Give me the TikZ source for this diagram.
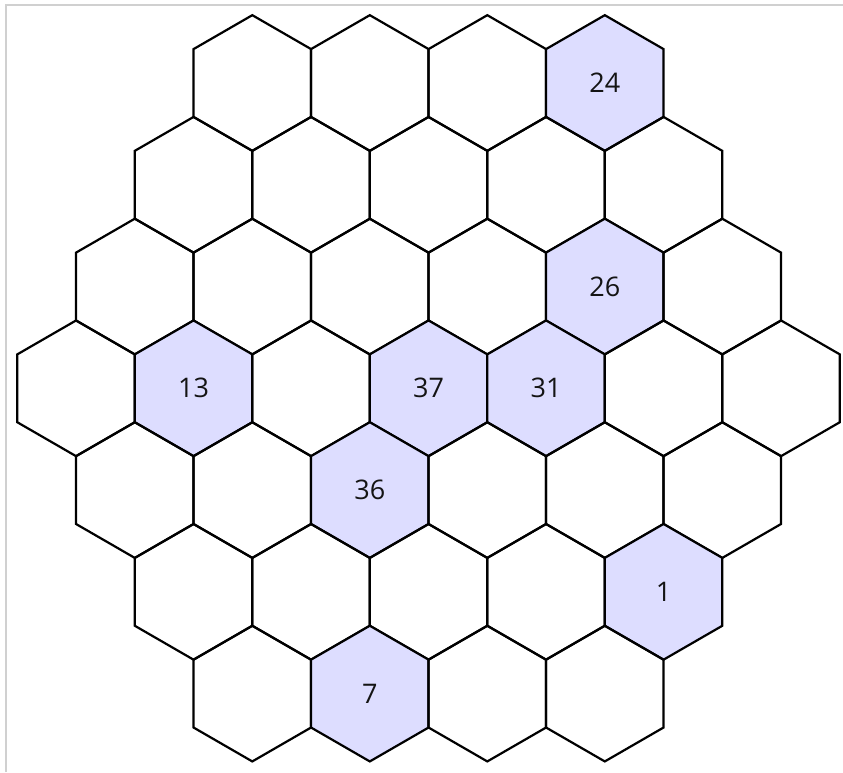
\documentclass[tikz,border=0pt]{standalone}
\usepackage{fontspec}
\setmainfont{Open Sans}
\usetikzlibrary{shapes.geometric}
\definecolor{hexfill}{RGB}{221,221,255}
\definecolor{framegray}{RGB}{208,208,208}
\expandafter\def\csname hx0-3\endcsname{24}
\expandafter\def\csname hx2-4\endcsname{26}
\expandafter\def\csname hx3-1\endcsname{13}
\expandafter\def\csname hx3-3\endcsname{37}
\expandafter\def\csname hx3-4\endcsname{31}
\expandafter\def\csname hx4-2\endcsname{36}
\expandafter\def\csname hx5-4\endcsname{1}
\expandafter\def\csname hx6-1\endcsname{7}
\begin{document}
\begin{tikzpicture}[x=1pt,y=-1pt,
  hexcell/.style={regular polygon, regular polygon sides=6, shape border rotate=30,
    minimum size=135.7pt, inner sep=0pt, outer sep=0pt, draw=black, line width=2.2pt,
    font=\fontsize{27}{31}\selectfont, text=black!92}]
\useasboundingbox (0,0) rectangle (843,772);
\fill[white] (0,0) rectangle (843,772);
\draw[framegray, line width=2pt] (5.5,772) -- (5.5,4.5) -- (843,4.5);
\foreach \r in {0,...,6}{
  \pgfmathtruncatemacro\d{abs(\r-3)}
  \pgfmathtruncatemacro\n{6-\d}
  \foreach \c in {0,...,\n}{
    \ifcsname hx\r-\c\endcsname
      \node[hexcell, fill=hexfill] (h-\r-\c) at ({76.05+(\d+2*\c)*58.75},{388.3+(\r-3)*101.76}) {\csname hx\r-\c\endcsname};
    \else
      \node[hexcell] (h-\r-\c) at ({76.05+(\d+2*\c)*58.75},{388.3+(\r-3)*101.76}) {};
    \fi
  }
}
\end{tikzpicture}
\end{document}
